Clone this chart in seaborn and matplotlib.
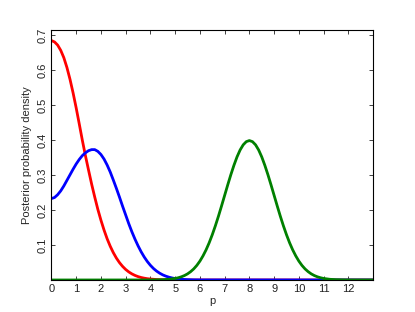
import matplotlib
matplotlib.use("Agg")
import matplotlib.pyplot as plt
import seaborn as sns
import numpy as np

# --- Data ---
# red curve
red_p = list(np.arange(0, 4.01, 0.125)) + [4.25, 4.5, 4.75, 5.0, 13.0]
red_density = [
    0.685, 0.681, 0.672, 0.657, 0.636, 0.608, 0.574, 0.535, 0.492, 0.446,
    0.399, 0.355, 0.314, 0.274, 0.237, 0.202, 0.171, 0.143, 0.118, 0.0966,
    0.0782, 0.0626, 0.0496, 0.0389, 0.0301, 0.0231, 0.0175, 0.0131, 0.0097, 0.0071,
    0.0052, 0.0037, 0.0027,
    0.0013, 0.0006, 0.0003, 0.0001, 0.0,
]

# blue curve
blue_p = list(np.arange(0, 5.01, 0.125)) + [5.25, 5.5, 5.75, 6.0, 13.0]
blue_density = [
    0.233, 0.236, 0.244, 0.255, 0.269, 0.285, 0.301, 0.317, 0.332, 0.345,
    0.356, 0.364, 0.370, 0.373, 0.373, 0.368, 0.359, 0.346, 0.329, 0.309,
    0.286, 0.262, 0.237, 0.211, 0.186, 0.161, 0.138, 0.117, 0.0978, 0.0807,
    0.0657, 0.0528, 0.0419, 0.0328, 0.0254, 0.0194, 0.0146, 0.0109, 0.0080, 0.0058,
    0.0041,
    0.0020, 0.00096, 0.0004, 0.0002, 0.0,
]

# green curve
green_p = [0.0, 4.0, 4.25, 4.5, 4.75] + list(np.arange(5.0, 11.01, 0.125)) + [11.25, 11.5, 11.75, 12.0, 13.0]
green_density = [
    0.0, 0.0001, 0.0004, 0.0009, 0.0020,
    0.0044, 0.0064, 0.0091, 0.0127, 0.0175, 0.0238, 0.0317, 0.0417, 0.0540, 0.0689,
    0.0863, 0.1065, 0.1295, 0.1550, 0.1826, 0.2119, 0.2420, 0.2721, 0.3011, 0.3280,
    0.3521, 0.3719, 0.3867, 0.3958, 0.3989, 0.3958, 0.3867, 0.3719, 0.3521, 0.3280,
    0.3011, 0.2721, 0.2420, 0.2119, 0.1826, 0.1550, 0.1295, 0.1065, 0.0863, 0.0689,
    0.0540, 0.0417, 0.0317, 0.0238, 0.0175, 0.0127, 0.0091, 0.0064, 0.0044,
    0.0020, 0.0009, 0.0004, 0.0001, 0.0,
]

x_ticks = list(range(0, 13))
y_ticks = [0.1, 0.2, 0.3, 0.4, 0.5, 0.6, 0.7]

# --- Style ---
sns.set_style("white", {
    "xtick.direction": "in", "ytick.direction": "in",
    "xtick.top": True, "ytick.right": True,
    "xtick.bottom": True, "ytick.left": True,
    "axes.edgecolor": "black",
})
plt.rcParams["font.family"] = ["Liberation Sans", "DejaVu Sans"]
plt.rcParams["font.size"] = 8

fig = plt.figure(figsize=(4.15, 3.12), dpi=100)
ax = fig.add_axes([0.124, 0.1026, 0.775, 0.801])

for xs, ys, color in [(red_p, red_density, "#ff0000"),
                      (blue_p, blue_density, "#0000ff"),
                      (green_p, green_density, "#008000")]:
    sns.lineplot(x=xs, y=ys, color=color, linewidth=2.0, ax=ax,
                 solid_joinstyle="round", solid_capstyle="round")

ax.set_xlim(0, 13)
ax.set_ylim(0, 0.715)
ax.set_xticks(x_ticks)
ax.set_yticks(y_ticks)
ax.set_yticklabels([f"{v:.1f}" for v in y_ticks], rotation=90, va="center")
ax.tick_params(axis="both", length=3, width=0.6, labelsize=8, pad=3, colors="#222222")
for s in ax.spines.values():
    s.set_linewidth(0.8)

ax.set_xlabel("p", fontsize=8, labelpad=1)
ax.set_ylabel("Posterior probability density", fontsize=8, labelpad=4)

fig.savefig("out.png", dpi=100)
